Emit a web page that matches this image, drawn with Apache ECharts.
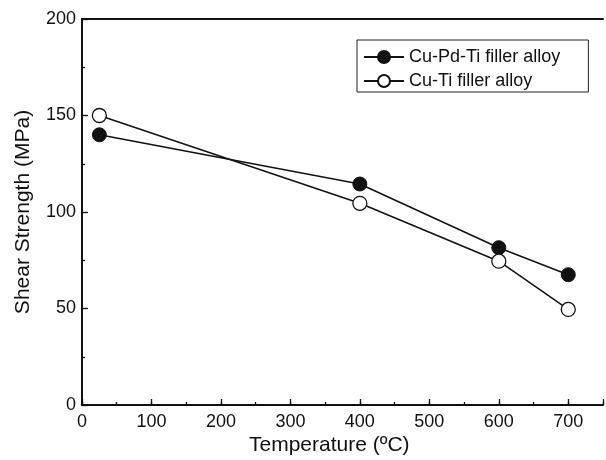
<!DOCTYPE html>
<html>
<head>
<meta charset="utf-8">
<script src="https://cdn.jsdelivr.net/npm/echarts@6/dist/echarts.min.js"></script>
<style>
  html, body { margin: 0; padding: 0; background: #fff; }
  #chart { width: 606px; height: 460px; }
</style>
</head>
<body>
<div id="chart"></div>
<script>
// temperatures (ºC) and shear strength (MPa)
var temps = [25, 400, 600, 700]
var cuPdTi = [140, 114.5, 81.5, 67.5]
var cuTi = [150, 104.5, 74.5, 49.5]
var seriesNames = ['Cu-Pd-Ti filler alloy', 'Cu-Ti filler alloy']
var xTicks = [0, 100, 200, 300, 400, 500, 600, 700]

var font = '"Liberation Sans", Arial, sans-serif'
var ink = '#111'

function pairs(xs, ys) {
  var out = []
  for (var i = 0; i < xs.length; i++) out.push([xs[i], ys[i]])
  return out
}

var myChart = echarts.init(document.getElementById('chart'))

var baseX = {
  type: 'value',
  min: 0,
  max: 750,
  splitLine: { show: false }
}

var option = {
  animation: false,
  backgroundColor: '#fff',
  textStyle: { fontFamily: font, color: ink },
  grid: { left: 82, top: 19, width: 525, height: 386, containLabel: false },
  legend: {
    orient: 'vertical',
    left: 357,
    top: 40,
    data: seriesNames,
    itemWidth: 40,
    itemHeight: 15,
    itemGap: 6,
    padding: [8, 28, 2, 6],
    borderColor: '#222',
    borderWidth: 1,
    textStyle: { fontFamily: font, fontSize: 18, color: ink }
  },
  xAxis: [
    Object.assign({}, baseX, {
      position: 'bottom',
      interval: 100,
      axisLine: { lineStyle: { color: ink, width: 2 } },
      axisTick: { inside: true, length: 6, lineStyle: { color: ink, width: 1.3 } },
      axisLabel: {
        fontSize: 18, color: ink, margin: 8, fontFamily: font,
        formatter: function (v) { return xTicks.indexOf(v) >= 0 ? String(v) : '' }
      }
    }),
    Object.assign({}, baseX, {
      position: 'bottom',
      interval: 50,
      axisLine: { show: false },
      axisTick: { inside: true, length: 3, lineStyle: { color: ink, width: 1.3 } },
      axisLabel: { show: false }
    }),
    Object.assign({}, baseX, {
      position: 'top',
      axisLine: { lineStyle: { color: ink, width: 2 } },
      axisTick: { show: false },
      axisLabel: { show: false }
    })
  ],
  yAxis: {
    type: 'value',
    min: 0,
    max: 200,
    interval: 50,
    name: 'Shear Strength (MPa)',
    nameLocation: 'middle',
    nameGap: 48,
    nameTextStyle: { fontSize: 21, color: ink, fontFamily: font },
    splitLine: { show: false },
    axisLine: { show: true, lineStyle: { color: ink, width: 2 } },
    axisTick: { show: true, inside: true, length: 6, lineStyle: { color: ink, width: 1.3 } },
    minorTick: { show: true, splitNumber: 2, length: 3, lineStyle: { color: ink, width: 1.3 } },
    axisLabel: { fontSize: 18, color: ink, margin: 6, fontFamily: font }
  },
  graphic: [{
    type: 'text',
    left: 249,
    top: 435,
    style: { text: 'Temperature (ºC)', font: '21px ' + font, fill: ink }
  }],
  series: [
    {
      name: seriesNames[0],
      type: 'line',
      data: pairs(temps, cuPdTi),
      symbol: 'circle',
      symbolSize: 14,
      lineStyle: { color: ink, width: 1.5 },
      itemStyle: { color: ink, borderColor: ink, borderWidth: 1 }
    },
    {
      name: seriesNames[1],
      type: 'line',
      data: pairs(temps, cuTi),
      symbol: 'circle',
      symbolSize: 14,
      lineStyle: { color: ink, width: 1.5 },
      itemStyle: { color: '#fff', borderColor: ink, borderWidth: 1.3 }
    }
  ]
}

myChart.setOption(option)
</script>
</body>
</html>
